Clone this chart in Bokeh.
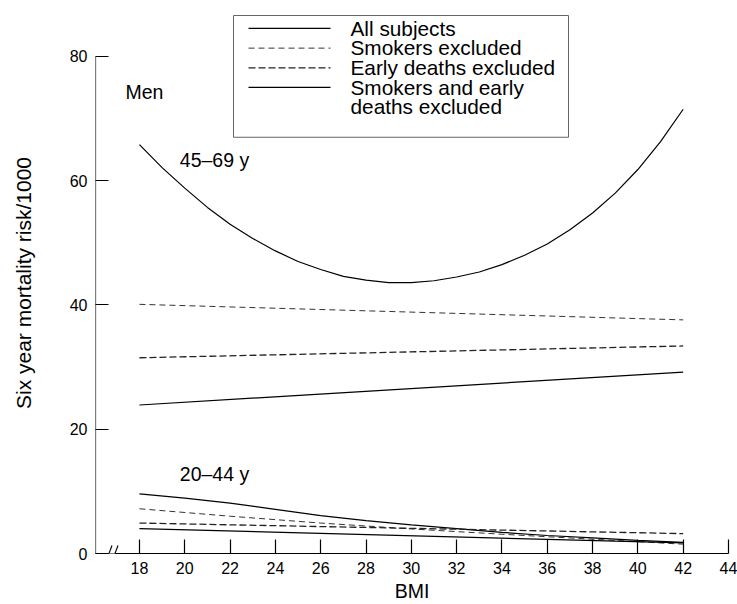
from bokeh.plotting import figure
from bokeh.models import Range1d, FixedTicker, Label, Arrow, BoxAnnotation
from bokeh.embed import file_html
from bokeh.resources import INLINE

# ---- data ----
bmi_curve = [18, 19, 20, 21, 22, 23, 24, 25, 26, 27, 28, 29, 30,
             31, 32, 33, 34, 35, 36, 37, 38, 39, 40, 41, 42]
all_old = [65.8, 62.1, 58.8, 55.7, 53.0, 50.7, 48.7, 47.0, 45.7, 44.6, 44.0, 43.6, 43.6,
           43.9, 44.5, 45.3, 46.5, 48.0, 49.8, 52.1, 54.8, 58.0, 61.8, 66.3, 71.5]

bmi_ends = [18, 42]
smk_old = [40.1, 37.6]
early_old = [31.5, 33.4]
both_old = [23.9, 29.2]

bmi_young = [18, 20, 22, 24, 26, 28, 30, 32, 34, 36, 38, 40, 42]
all_young = [9.6, 8.9, 8.1, 7.1, 6.1, 5.3, 4.6, 4.0, 3.4, 2.9, 2.5, 2.1, 1.8]
bmi_young_smk = [18, 22, 26, 30, 34, 38, 42]
smk_young = [7.2, 6.0, 4.9, 3.95, 3.1, 2.3, 1.5]
early_young = [4.9, 3.2]
both_young = [4.0, 1.7]

x_ticks = [18, 20, 22, 24, 26, 28, 30, 32, 34, 36, 38, 40, 42, 44]
y_ticks = [0, 20, 40, 60, 80]
y_axis_top = 80

legend_labels = ["All subjects", "Smokers excluded", "Early deaths excluded",
                 "Smokers and early", "deaths excluded"]

FONT = "Liberation Sans"

# ---- layout (pixels) ----
W, H = 737, 604
FL, FR, FT, FB = 95, 728, 12, 554          # frame edges in pixels
X0, X1 = 16.06, 44.0
PX_PER_Y = 6.225
Y0, Y1 = 0.0, (FB - FT) / PX_PER_Y


def dx(px):
    return X0 + (px - FL) * (X1 - X0) / (FR - FL)


def dy(py):
    return Y0 + (FB - py) * (Y1 - Y0) / (FB - FT)


BASE_FIX = 7.4  # alphabetic baseline correction (px)

p = figure(width=W, height=H, output_backend="svg", toolbar_location=None,
           x_range=Range1d(X0, X1), y_range=Range1d(Y0, Y1),
           min_border_left=FL, min_border_right=W - FR, min_border_top=FT,
           min_border_bottom=H - FB)
p.outline_line_color = None
p.xgrid.visible = False
p.ygrid.visible = False
p.background_fill_color = "white"
p.border_fill_color = "white"

# line styles
solid = dict(line_color="black", line_width=1.2)
fine = dict(line_color="#333333", line_width=1.0, line_dash="6 4")
coarse = dict(line_color="#222222", line_width=1.3, line_dash="7 3")
styles = [solid, fine, coarse, solid]

p.line(bmi_curve, all_old, **solid)
p.line(bmi_ends, smk_old, **fine)
p.line(bmi_ends, early_old, **coarse)
p.line(bmi_ends, both_old, **solid)

p.line(bmi_young, all_young, **solid)
p.line(bmi_young_smk, smk_young, **fine)
p.line(bmi_ends, early_young, **coarse)
p.line(bmi_ends, both_young, **solid)

# axes
for ax in (p.xaxis[0], p.yaxis[0]):
    ax.axis_line_color = "black"
    ax.axis_line_width = 1.2
    ax.major_tick_line_color = "black"
    ax.major_tick_line_width = 1.2
    ax.major_tick_out = 0
    ax.minor_tick_line_color = None
    ax.major_label_text_font = FONT
    ax.major_label_text_font_size = "16px"
    ax.major_label_text_color = "black"
    ax.axis_label_text_font = FONT
    ax.axis_label_text_font_style = "normal"
    ax.axis_label_text_color = "black"
    ax.major_label_standoff = 8

p.xaxis.ticker = FixedTicker(ticks=x_ticks)
p.xaxis.major_tick_in = 14
p.xaxis.axis_label = "BMI"
p.xaxis.axis_label_text_font_size = "19.5px"
p.xaxis.axis_label_standoff = 3

p.yaxis.ticker = FixedTicker(ticks=y_ticks)
p.yaxis.major_tick_in = 13
p.yaxis.axis_label = "Six year mortality risk/1000"
p.yaxis.axis_label_text_font_size = "21px"
p.yaxis.axis_label_standoff = 32
# the y axis line stops at the top tick (80)
p.yaxis.axis_line_color = None
p.add_layout(Arrow(end=None, x_start=X0, y_start=0, x_end=X0, y_end=y_axis_top,
                   line_color="black", line_width=1.2))

# axis break on the x axis
p.add_layout(Arrow(end=None, x_start=dx(108.2), y_start=0, x_end=dx(114.8), y_end=0,
                   line_color="white", line_width=3))
p.add_layout(Arrow(end=None, x_start=dx(105.5), y_start=dy(562), x_end=dx(111.5), y_end=dy(546),
                   line_color="black", line_width=1.1))
p.add_layout(Arrow(end=None, x_start=dx(111.5), y_start=dy(562), x_end=dx(117.5), y_end=dy(546),
                   line_color="black", line_width=1.1))

# text labels in the plot
lab = dict(text_font=FONT, text_font_size="19.5px", text_color="black",
           text_baseline="alphabetic", text_align="left")
p.add_layout(Label(x=dx(125), y=dy(99.3 - BASE_FIX), text="Men", **lab))
p.add_layout(Label(x=dx(179.3), y=dy(166.7 - BASE_FIX), text="45\u201369 y", **lab))
p.add_layout(Label(x=dx(179.3), y=dy(481.5 - BASE_FIX), text="20\u201344 y", **lab))

# legend (box, line samples, labels)
p.add_layout(BoxAnnotation(left=dx(233), right=dx(568), top=dy(15), bottom=dy(137),
                           fill_color="white", fill_alpha=1,
                           line_color="#666666", line_width=1, line_alpha=1))
baselines = [35.0, 54.7, 74.4, 94.1, 113.8]
for i, text in enumerate(legend_labels):
    p.add_layout(Label(x=dx(350), y=dy(baselines[i] - BASE_FIX), text=text,
                       text_font=FONT, text_font_size="20.8px", text_color="black",
                       text_baseline="alphabetic", text_align="left"))
for i, st in enumerate(styles):
    yy = dy(baselines[i] - 7)
    p.add_layout(Arrow(end=None, x_start=dx(248), y_start=yy, x_end=dx(330), y_end=yy,
                       **st))

open("out.html", "w").write(file_html(p, INLINE))
